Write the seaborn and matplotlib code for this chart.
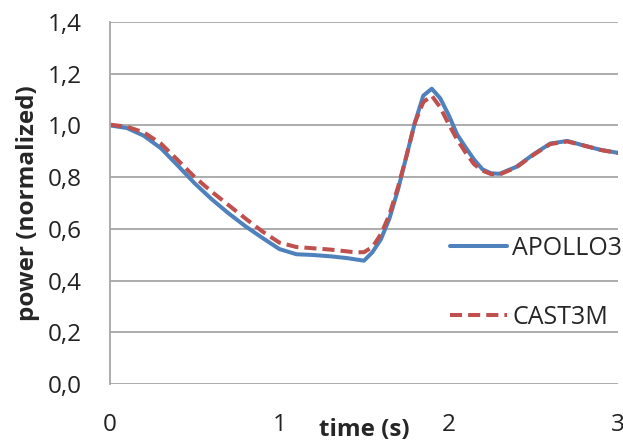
import numpy as np
import pandas as pd
import seaborn as sns
from matplotlib import pyplot as plt

# time axis (s) and the two normalized power curves
time_s = [0.0, 0.1, 0.2, 0.3, 0.4, 0.5, 0.6, 0.7, 0.8, 0.9, 1.0,
          1.1, 1.2, 1.3, 1.4, 1.45, 1.5, 1.55, 1.6, 1.65, 1.7, 1.75,
          1.8, 1.85, 1.9, 1.95, 2.0, 2.05, 2.1, 2.15, 2.2, 2.25, 2.3,
          2.4, 2.5, 2.6, 2.7, 2.8, 2.9, 3.0]
apollo3 = [1.000, 0.990, 0.960, 0.912, 0.845, 0.776, 0.715, 0.660, 0.610, 0.565, 0.522,
           0.502, 0.499, 0.494, 0.487, 0.482, 0.477, 0.510, 0.560, 0.640, 0.750, 0.880,
           1.010, 1.115, 1.142, 1.105, 1.040, 0.965, 0.915, 0.868, 0.830, 0.815, 0.813,
           0.840, 0.888, 0.930, 0.940, 0.922, 0.905, 0.894]
cast3m = [1.003, 0.995, 0.973, 0.930, 0.866, 0.800, 0.744, 0.692, 0.640, 0.590, 0.547,
          0.530, 0.525, 0.520, 0.513, 0.509, 0.510, 0.530, 0.580, 0.655, 0.760, 0.880,
          1.010, 1.090, 1.115, 1.070, 1.005, 0.945, 0.895, 0.850, 0.825, 0.812, 0.810,
          0.838, 0.886, 0.928, 0.938, 0.922, 0.905, 0.893]
y_ticks = [0.0, 0.2, 0.4, 0.6, 0.8, 1.0, 1.2, 1.4]
x_ticks = [0, 1, 2, 3]

df = pd.DataFrame({"time": time_s, "APOLLO3": apollo3, "CAST3M": cast3m})

sns.set_style("white")
plt.rcParams["font.family"] = ["Open Sans", "DejaVu Sans"]

fig = plt.figure(figsize=(6.23, 4.44), dpi=100)
ax = fig.add_axes([0.1766, 0.135, 0.8154, 0.8155])

sns.lineplot(data=df, x="time", y="APOLLO3", ax=ax, color="#4F81BD",
             linewidth=2.9, label="APOLLO3")
sns.lineplot(data=df, x="time", y="CAST3M", ax=ax, color="#C0504D",
             linewidth=2.9, linestyle=(0, (3.0, 1.5)), label="CAST3M")

ax.set_xlim(0, 3)
ax.set_ylim(0, 1.4)
ax.set_yticks(y_ticks)
ax.set_yticklabels([f"{v:.1f}".replace(".", ",") for v in y_ticks])
ax.set_xticks(x_ticks)
ax.set_xticklabels([str(v) for v in x_ticks])
ax.tick_params(axis="y", length=0, pad=20, labelsize=17.5, colors="#222222")
ax.tick_params(axis="x", length=0, pad=21, labelsize=17.5, colors="#222222")

# horizontal gridlines only, light grey left axis
ax.grid(axis="y", color="#A6A6A6", linewidth=1.3)
ax.grid(axis="x", visible=False)
for side in ["top", "right", "bottom"]:
    ax.spines[side].set_visible(False)
ax.spines["left"].set_color("#A6A6A6")
ax.spines["left"].set_linewidth(1.3)

ax.set_xlabel("time (s)", fontsize=17.5, fontweight="bold", labelpad=-13.5)
ax.set_ylabel("power (normalized)", fontsize=17.5, fontweight="bold", labelpad=6)

leg = ax.legend(loc="center left", bbox_to_anchor=(0.669, 0.28), frameon=False,
                fontsize=18, handlelength=2.3, handletextpad=0.2,
                labelspacing=1.75, borderpad=0, borderaxespad=0)

fig.savefig("out.png", dpi=100)
